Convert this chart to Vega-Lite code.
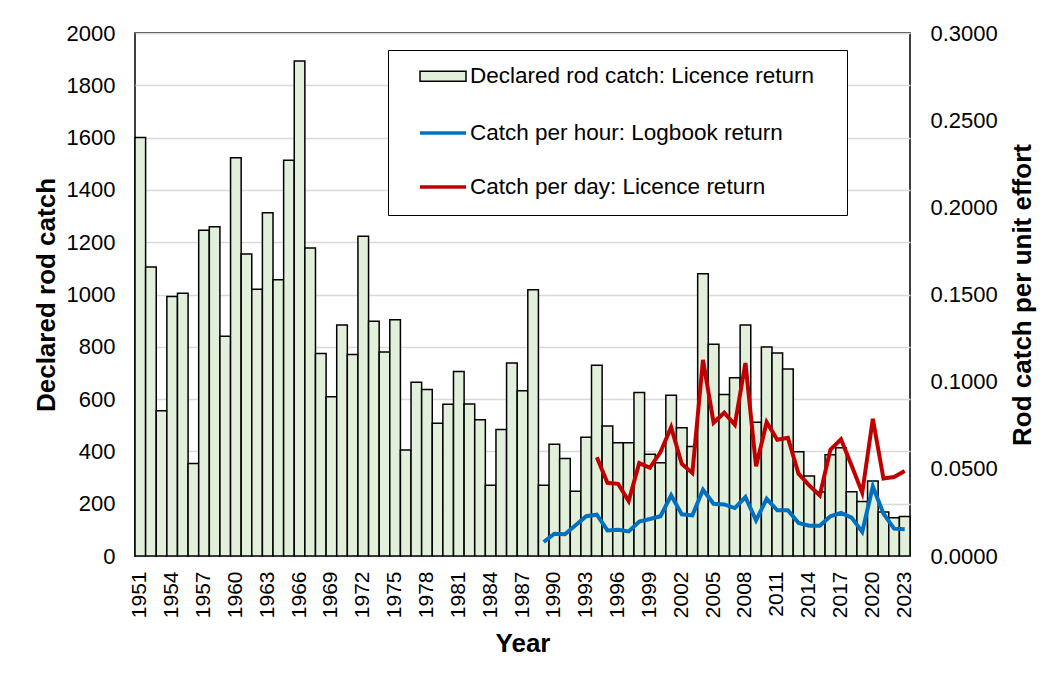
{
  "$schema": "https://vega.github.io/schema/vega-lite/v6.json",
  "autosize": {"type": "none"},
  "width": 775,
  "height": 523,
  "padding": {"left": 135, "top": 33, "right": 148, "bottom": 134},
  "background": "white",
  "config": {
    "view": {"stroke": "#000000", "strokeWidth": 1.5},
    "font": "Liberation Sans",
    "axis": {
      "labelFont": "Liberation Sans",
      "labelColor": "#000000",
      "titleFont": "Liberation Sans",
      "titleColor": "#000000",
      "titleFontWeight": "bold",
      "titleFontSize": 26,
      "ticks": false,
      "domain": false
    },
    "legend": {
      "labelFont": "Liberation Sans",
      "labelColor": "#000000"
    }
  },
  "datasets": {
    "catch": [
      {"year": 1951, "catch": 1600}, {"year": 1952, "catch": 1105}, {"year": 1953, "catch": 555},
      {"year": 1954, "catch": 992}, {"year": 1955, "catch": 1005}, {"year": 1956, "catch": 354},
      {"year": 1957, "catch": 1246}, {"year": 1958, "catch": 1259}, {"year": 1959, "catch": 840},
      {"year": 1960, "catch": 1523}, {"year": 1961, "catch": 1155}, {"year": 1962, "catch": 1020},
      {"year": 1963, "catch": 1313}, {"year": 1964, "catch": 1056}, {"year": 1965, "catch": 1513},
      {"year": 1966, "catch": 1893}, {"year": 1967, "catch": 1178}, {"year": 1968, "catch": 774},
      {"year": 1969, "catch": 609}, {"year": 1970, "catch": 883}, {"year": 1971, "catch": 771},
      {"year": 1972, "catch": 1223}, {"year": 1973, "catch": 898}, {"year": 1974, "catch": 780},
      {"year": 1975, "catch": 903}, {"year": 1976, "catch": 405}, {"year": 1977, "catch": 664},
      {"year": 1978, "catch": 637}, {"year": 1979, "catch": 508}, {"year": 1980, "catch": 580},
      {"year": 1981, "catch": 706}, {"year": 1982, "catch": 581}, {"year": 1983, "catch": 521},
      {"year": 1984, "catch": 271}, {"year": 1985, "catch": 484}, {"year": 1986, "catch": 738},
      {"year": 1987, "catch": 632}, {"year": 1988, "catch": 1018}, {"year": 1989, "catch": 271},
      {"year": 1990, "catch": 427}, {"year": 1991, "catch": 373}, {"year": 1992, "catch": 248},
      {"year": 1993, "catch": 454}, {"year": 1994, "catch": 729}, {"year": 1995, "catch": 497},
      {"year": 1996, "catch": 433}, {"year": 1997, "catch": 433}, {"year": 1998, "catch": 625},
      {"year": 1999, "catch": 389}, {"year": 2000, "catch": 357}, {"year": 2001, "catch": 615},
      {"year": 2002, "catch": 490}, {"year": 2003, "catch": 419}, {"year": 2004, "catch": 1079},
      {"year": 2005, "catch": 810}, {"year": 2006, "catch": 618}, {"year": 2007, "catch": 682},
      {"year": 2008, "catch": 883}, {"year": 2009, "catch": 511}, {"year": 2010, "catch": 799},
      {"year": 2011, "catch": 776}, {"year": 2012, "catch": 715}, {"year": 2013, "catch": 399},
      {"year": 2014, "catch": 306}, {"year": 2015, "catch": 245}, {"year": 2016, "catch": 387},
      {"year": 2017, "catch": 414}, {"year": 2018, "catch": 246}, {"year": 2019, "catch": 208},
      {"year": 2020, "catch": 287}, {"year": 2021, "catch": 168}, {"year": 2022, "catch": 146},
      {"year": 2023, "catch": 151}
    ],
    "cpue": [
      {"year": 1989, "series": "Catch per hour: Logbook return", "value": 0.0080},
      {"year": 1990, "series": "Catch per hour: Logbook return", "value": 0.0128},
      {"year": 1991, "series": "Catch per hour: Logbook return", "value": 0.0125},
      {"year": 1992, "series": "Catch per hour: Logbook return", "value": 0.0176},
      {"year": 1993, "series": "Catch per hour: Logbook return", "value": 0.0228},
      {"year": 1994, "series": "Catch per hour: Logbook return", "value": 0.0237},
      {"year": 1995, "series": "Catch per hour: Logbook return", "value": 0.0147},
      {"year": 1996, "series": "Catch per hour: Logbook return", "value": 0.0150},
      {"year": 1997, "series": "Catch per hour: Logbook return", "value": 0.0141},
      {"year": 1998, "series": "Catch per hour: Logbook return", "value": 0.0198},
      {"year": 1999, "series": "Catch per hour: Logbook return", "value": 0.0212},
      {"year": 2000, "series": "Catch per hour: Logbook return", "value": 0.0228},
      {"year": 2001, "series": "Catch per hour: Logbook return", "value": 0.0348},
      {"year": 2002, "series": "Catch per hour: Logbook return", "value": 0.0239},
      {"year": 2003, "series": "Catch per hour: Logbook return", "value": 0.0233},
      {"year": 2004, "series": "Catch per hour: Logbook return", "value": 0.0380},
      {"year": 2005, "series": "Catch per hour: Logbook return", "value": 0.0300},
      {"year": 2006, "series": "Catch per hour: Logbook return", "value": 0.0296},
      {"year": 2007, "series": "Catch per hour: Logbook return", "value": 0.0275},
      {"year": 2008, "series": "Catch per hour: Logbook return", "value": 0.0338},
      {"year": 2009, "series": "Catch per hour: Logbook return", "value": 0.0204},
      {"year": 2010, "series": "Catch per hour: Logbook return", "value": 0.0328},
      {"year": 2011, "series": "Catch per hour: Logbook return", "value": 0.0262},
      {"year": 2012, "series": "Catch per hour: Logbook return", "value": 0.0262},
      {"year": 2013, "series": "Catch per hour: Logbook return", "value": 0.0189},
      {"year": 2014, "series": "Catch per hour: Logbook return", "value": 0.0174},
      {"year": 2015, "series": "Catch per hour: Logbook return", "value": 0.0174},
      {"year": 2016, "series": "Catch per hour: Logbook return", "value": 0.0228},
      {"year": 2017, "series": "Catch per hour: Logbook return", "value": 0.0247},
      {"year": 2018, "series": "Catch per hour: Logbook return", "value": 0.0220},
      {"year": 2019, "series": "Catch per hour: Logbook return", "value": 0.0138},
      {"year": 2020, "series": "Catch per hour: Logbook return", "value": 0.0399},
      {"year": 2021, "series": "Catch per hour: Logbook return", "value": 0.0243},
      {"year": 2022, "series": "Catch per hour: Logbook return", "value": 0.0157},
      {"year": 2023, "series": "Catch per hour: Logbook return", "value": 0.0154},
      {"year": 1994, "series": "Catch per day: Licence return", "value": 0.0567},
      {"year": 1995, "series": "Catch per day: Licence return", "value": 0.0420},
      {"year": 1996, "series": "Catch per day: Licence return", "value": 0.0414},
      {"year": 1997, "series": "Catch per day: Licence return", "value": 0.0315},
      {"year": 1998, "series": "Catch per day: Licence return", "value": 0.0533},
      {"year": 1999, "series": "Catch per day: Licence return", "value": 0.0506},
      {"year": 2000, "series": "Catch per day: Licence return", "value": 0.0596},
      {"year": 2001, "series": "Catch per day: Licence return", "value": 0.0739},
      {"year": 2002, "series": "Catch per day: Licence return", "value": 0.0529},
      {"year": 2003, "series": "Catch per day: Licence return", "value": 0.0476},
      {"year": 2004, "series": "Catch per day: Licence return", "value": 0.1125},
      {"year": 2005, "series": "Catch per day: Licence return", "value": 0.0765},
      {"year": 2006, "series": "Catch per day: Licence return", "value": 0.0822},
      {"year": 2007, "series": "Catch per day: Licence return", "value": 0.0753},
      {"year": 2008, "series": "Catch per day: Licence return", "value": 0.1107},
      {"year": 2009, "series": "Catch per day: Licence return", "value": 0.0514},
      {"year": 2010, "series": "Catch per day: Licence return", "value": 0.0768},
      {"year": 2011, "series": "Catch per day: Licence return", "value": 0.0667},
      {"year": 2012, "series": "Catch per day: Licence return", "value": 0.0678},
      {"year": 2013, "series": "Catch per day: Licence return", "value": 0.0472},
      {"year": 2014, "series": "Catch per day: Licence return", "value": 0.0405},
      {"year": 2015, "series": "Catch per day: Licence return", "value": 0.0348},
      {"year": 2016, "series": "Catch per day: Licence return", "value": 0.0609},
      {"year": 2017, "series": "Catch per day: Licence return", "value": 0.0669},
      {"year": 2018, "series": "Catch per day: Licence return", "value": 0.0519},
      {"year": 2019, "series": "Catch per day: Licence return", "value": 0.0363},
      {"year": 2020, "series": "Catch per day: Licence return", "value": 0.0787},
      {"year": 2021, "series": "Catch per day: Licence return", "value": 0.0444},
      {"year": 2022, "series": "Catch per day: Licence return", "value": 0.0453},
      {"year": 2023, "series": "Catch per day: Licence return", "value": 0.0487}
    ]
  },
  "layer": [
    {
      "data": {"name": "catch"},
      "mark": {"type": "bar", "stroke": "#000000", "strokeWidth": 1.5},
      "encoding": {
        "x": {
          "field": "year", "type": "ordinal",
          "scale": {"paddingInner": 0, "paddingOuter": 0},
          "axis": {
            "values": [1951, 1954, 1957, 1960, 1963, 1966, 1969, 1972, 1975, 1978, 1981, 1984, 1987, 1990, 1993, 1996, 1999, 2002, 2005, 2008, 2011, 2014, 2017, 2020, 2023],
            "labelAngle": 270,
            "labelFontSize": 21,
            "labelPadding": 15,
            "title": "Year",
            "titlePadding": 13
          }
        },
        "y": {
          "field": "catch", "type": "quantitative",
          "scale": {"domain": [0, 2000], "nice": false},
          "axis": {
            "values": [0, 200, 400, 600, 800, 1000, 1200, 1400, 1600, 1800, 2000],
            "format": "d",
            "labelFontSize": 22,
            "labelPadding": 20,
            "grid": true,
            "gridColor": "#D9D9D9",
            "gridWidth": 1.5,
            "title": "Declared rod catch",
            "titlePadding": 7
          }
        },
        "fill": {
          "datum": "Declared rod catch: Licence return",
          "type": "nominal",
          "scale": {"range": ["#E2EFDA"]},
          "legend": {
            "orient": "none",
            "legendX": 253,
            "legendY": 17,
            "title": null,
            "direction": "vertical",
            "padding": 15,
            "symbolType": "M-2.3,-0.5H2.3V0.5H-2.3Z M38.6,12Z",
            "symbolSize": 400,
            "symbolStrokeColor": "#000000",
            "symbolStrokeWidth": 1.5,
            "symbolOffset": 28.75,
            "labelOffset": 15.75,
            "labelFontSize": 22.5,
            "labelLimit": 600,
            "strokeColor": "#000000",
            "fillColor": "#FFFFFF"
          }
        }
      }
    },
    {
      "data": {"name": "cpue"},
      "mark": {"type": "line", "strokeWidth": 4},
      "encoding": {
        "x": {"field": "year", "type": "ordinal"},
        "y": {
          "field": "value", "type": "quantitative",
          "scale": {"domain": [0, 0.3], "nice": false},
          "axis": {
            "orient": "right",
            "values": [0, 0.05, 0.1, 0.15, 0.2, 0.25, 0.3],
            "format": ".4f",
            "labelFontSize": 22,
            "labelPadding": 20,
            "grid": false,
            "title": "Rod catch per unit effort",
            "titleAngle": 270,
            "titleBaseline": "top",
            "titlePadding": 12
          }
        },
        "stroke": {
          "field": "series", "type": "nominal",
          "scale": {
            "domain": ["Catch per hour: Logbook return", "Catch per day: Licence return"],
            "range": ["#0070C0", "#C00000"]
          },
          "legend": {
            "orient": "none",
            "legendX": 253,
            "legendY": 73,
            "title": null,
            "direction": "vertical",
            "padding": 15,
            "rowPadding": 30,
            "symbolType": "M-2.3,0H2.3",
            "symbolSize": 400,
            "symbolStrokeWidth": 3.5,
            "symbolOffset": 28,
            "labelOffset": 15,
            "labelFontSize": 22.5,
            "labelLimit": 600
          }
        }
      }
    }
  ],
  "resolve": {"scale": {"y": "independent"}, "axis": {"y": "independent"}}
}
